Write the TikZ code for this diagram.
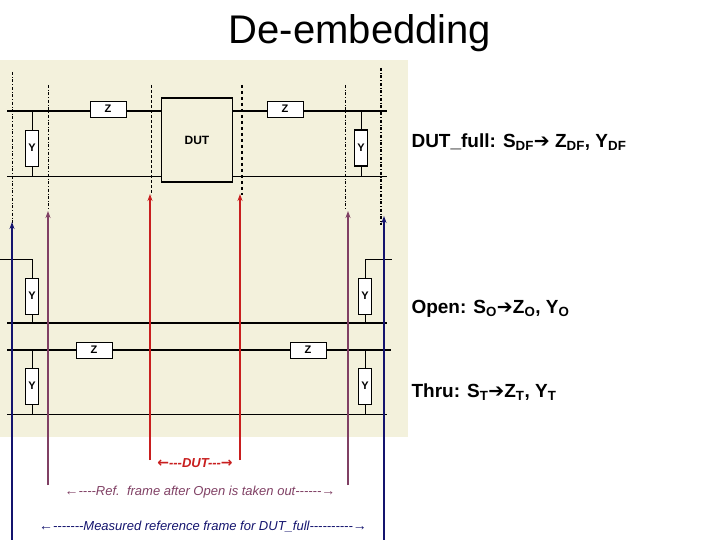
\documentclass[tikz,border=0pt]{standalone}
\usepackage{fontspec}
\setmainfont{Liberation Sans}
\newfontfamily\dejavu{DejaVu Sans}
\usetikzlibrary{arrows.meta}
\definecolor{bg}{RGB}{243,241,220}
\definecolor{pur}{RGB}{128,64,100}
\definecolor{nav}{RGB}{20,20,110}
\definecolor{rd}{RGB}{200,30,30}
\newcommand\la{{\dejavu\normalfont\fontsize{14}{14}\selectfont ←}}
\newcommand\ra{{\dejavu\normalfont\fontsize{14}{14}\selectfont →}}
\newcommand\lab{{\dejavu\bfseries\fontsize{14}{14}\selectfont ←}}
\newcommand\rab{{\dejavu\bfseries\fontsize{14}{14}\selectfont →}}
\begin{document}
\begin{tikzpicture}[x=1pt,y=-1pt,
  comp/.style={draw,thick,fill=white,font=\bfseries\fontsize{11}{12}\selectfont,inner sep=0pt},
  zbox/.style={comp,minimum width=36pt,minimum height=16pt},
  ybox/.style={comp,minimum width=13pt,minimum height=36pt},
  thickw/.style={line width=1.6pt},
  thinw/.style={line width=0.7pt},
  ddot/.style={dash dot,line width=0.6pt},
  arr/.style={-{Stealth[length=7pt,width=5pt]},line width=1.3pt},
  lbl/.style={font=\bfseries\fontsize{19}{22}\selectfont,anchor=west}]
\useasboundingbox (0,0) rectangle (720,540);
\fill[bg] (0,60) rectangle (408,437);
\node (title) at (360,33) {\fontsize{40}{46}\selectfont De-embedding};
% panel 1
\draw[thickw] (7,111) -- (387,111);
\draw[thinw] (7,176) -- (387,176);
\node[zbox] (z1) at (108,109) {Z};
\node[zbox] (z2) at (285,109) {Z};
\node[draw,line width=1.2pt,fill=bg,minimum width=71pt,minimum height=84pt,font=\bfseries\fontsize{12}{14}\selectfont] (dut) at (197,140) {DUT};
\draw (32,111) -- (32,176);
\draw (361,111) -- (361,176);
\node[ybox] (y1) at (32,148) {Y};
\node[ybox,line width=1.3pt] (y2) at (361,148) {Y};
% vertical ref lines
\coordinate (t1) at (12,72); \coordinate (t2) at (48,85); \coordinate (t3) at (151,85);
\coordinate (t4) at (242,85); \coordinate (t5) at (345,85); \coordinate (t6) at (381,68);
\draw[ddot] (t1) -- (12,225);
\draw[ddot] (t2) -- (48,210);
\draw[densely dashed,line width=0.6pt] (t3) -- (151,195);
\draw[dashed,line width=1.3pt] (t4) -- (242,195);
\draw[ddot] (t5) -- (345,210);
\draw[dash dot,line width=1.2pt] (t6) -- (381,225);
% open panel
\draw[thinw] (0,259) -- (32,259);
\draw[thinw] (365,259) -- (392,259);
\draw[thickw] (7,323) -- (387,323);
\draw (32,259) -- (32,323);
\draw (365,259) -- (365,323);
\node[ybox] (y3) at (32,296) {Y};
\node[ybox] (y4) at (365,296) {Y};
% thru panel
\draw[thickw] (7,350) -- (391,350);
\draw[thinw] (7,414) -- (387,414);
\draw (32,350) -- (32,414);
\draw (365,350) -- (365,414);
\node[zbox] (z3) at (94,350) {Z};
\node[zbox] (z4) at (308,350) {Z};
\node[ybox] (y5) at (32,386) {Y};
\node[ybox] (y6) at (365,386) {Y};
% arrows
\coordinate (b1) at (12,540); \coordinate (b2) at (48,485); \coordinate (b3) at (150,460);
\coordinate (b4) at (240,460); \coordinate (b5) at (348,485); \coordinate (b6) at (384,540);
\draw[arr,nav] (b1) -- (12,222);
\draw[arr,pur] (b2) -- (48,211);
\draw[arr,rd] (b3) -- (150,194);
\draw[arr,rd] (b4) -- (240,194);
\draw[arr,pur] (b5) -- (348,211);
\draw[arr,nav] (b6) -- (384,216);
% labels
\node[rd,font=\bfseries\itshape\fontsize{13}{13}\selectfont,inner sep=0pt] (ldut) at (195,463) {\lab-{}-{}-DUT-{}-{}-\rab};
\node[pur,font=\itshape\fontsize{13}{13}\selectfont,inner sep=0pt] (lref) at (200,492) {\la-{}-{}-{}-Ref.\ \ frame after Open is taken out-{}-{}-{}-{}-{}-\ra};
\node[nav,font=\itshape\fontsize{13}{13}\selectfont,inner sep=0pt] (lmeas) at (203,527) {\la-{}-{}-{}-{}-{}-{}-Measured reference frame for DUT\_full-{}-{}-{}-{}-{}-{}-{}-{}-{}-\ra};
\node[lbl] (l1) at (408,142) {DUT\_full: S$_{\mathrm{\bf DF}}${\dejavu ➔} Z$_{\mathrm{\bf DF}}$, Y$_{\mathrm{\bf DF}}$};
\node[lbl] (l2) at (408,309) {Open: S$_{\mathrm{\bf O}}${\dejavu ➔}Z$_{\mathrm{\bf O}}$, Y$_{\mathrm{\bf O}}$};
\node[lbl] (l3) at (408,392) {Thru: S$_{\mathrm{\bf T}}${\dejavu ➔}Z$_{\mathrm{\bf T}}$, Y$_{\mathrm{\bf T}}$};
\end{tikzpicture}
\end{document}
